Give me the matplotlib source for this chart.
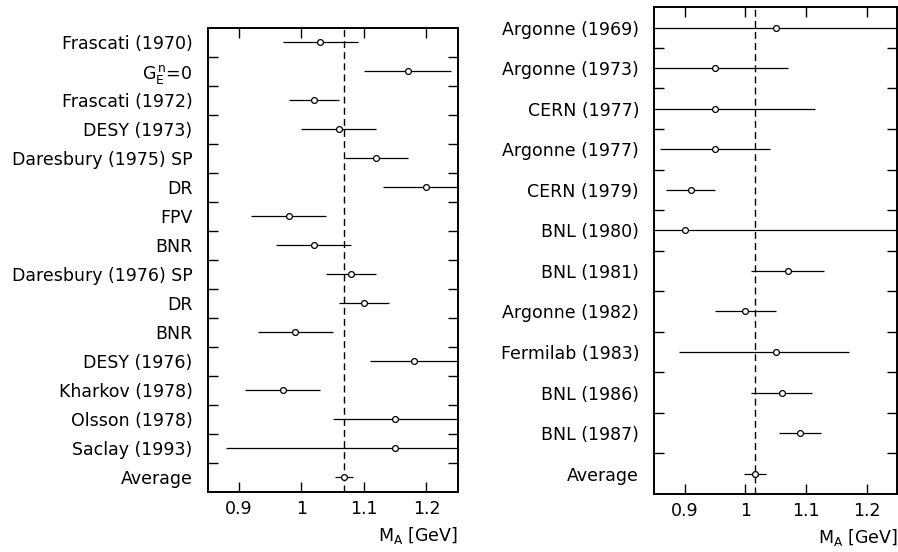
import matplotlib
matplotlib.use("Agg")
import matplotlib.pyplot as plt
from matplotlib.ticker import FixedLocator

# left panel: pion electroproduction
left_labels = ["Frascati (1970)", r"$\mathregular{G_E^{\,n}}$=0", "Frascati (1972)", "DESY (1973)",
               "Daresbury (1975) SP", "DR", "FPV", "BNR", "Daresbury (1976) SP", "DR", "BNR",
               "DESY (1976)", "Kharkov (1978)", "Olsson (1978)", "Saclay (1993)", "Average"]
left_val = [1.03, 1.17, 1.02, 1.06, 1.12, 1.20, 0.98, 1.02, 1.08, 1.10, 0.99, 1.18, 0.97, 1.15, 1.15, 1.068]
left_err = [0.06, 0.07, 0.04, 0.06, 0.05, 0.07, 0.06, 0.06, 0.04, 0.04, 0.06, 0.07, 0.06, 0.10, 0.27, 0.015]
left_avg = 1.068

# right panel: neutrino scattering
right_labels = ["Argonne (1969)", "Argonne (1973)", "CERN (1977)", "Argonne (1977)", "CERN (1979)",
                "BNL (1980)", "BNL (1981)", "Argonne (1982)", "Fermilab (1983)", "BNL (1986)",
                "BNL (1987)", "Average"]
right_val = [1.05, 0.95, 0.95, 0.95, 0.91, 0.90, 1.07, 1.00, 1.05, 1.06, 1.09, 1.016]
right_err_lo = [0.22, 0.12, 0.16, 0.09, 0.04, 0.35, 0.06, 0.05, 0.16, 0.05, 0.035, 0.018]
right_err_hi = [0.22, 0.12, 0.165, 0.09, 0.04, 0.35, 0.06, 0.05, 0.12, 0.05, 0.035, 0.018]
right_avg = 1.0165

xticks = [0.9, 1.0, 1.1, 1.2]
xtick_labels = ["0.9", "1", "1.1", "1.2"]

fig = plt.figure(figsize=(8.98, 5.52), dpi=100)
ax1 = fig.add_axes([0.2313, 0.1087, 0.2784, 0.8411])
ax2 = fig.add_axes([0.7286, 0.1051, 0.2706, 0.8817])


def draw_panel(ax, labels, vals, err, avg):
    n = len(labels)
    ys = list(range(1, n + 1))
    ax.axvline(avg, color="black", lw=1.0, dashes=(5, 3), zorder=1)
    ax.errorbar(vals, ys, xerr=err, fmt="o", color="black", ecolor="black",
                elinewidth=0.9, capsize=0, markersize=4.2, markerfacecolor="white",
                markeredgecolor="black", markeredgewidth=0.9, zorder=3)
    ax.set_xlim(0.85, 1.25)
    ax.set_ylim(n + 0.5, 0.5)
    ax.set_yticks(ys)
    ax.set_yticklabels(labels, fontsize=12.5)
    ax.yaxis.set_minor_locator(FixedLocator([i + 0.5 for i in range(1, n)]))
    ax.tick_params(axis="y", which="major", length=0, pad=11)
    ax.tick_params(axis="y", which="minor", length=7.2, width=1, direction="in", left=True, right=True)
    ax.set_xticks(xticks)
    ax.set_xticklabels(xtick_labels, fontsize=12.5)
    ax.tick_params(axis="x", which="major", length=7.2, width=1, direction="in", top=True, bottom=True, pad=6)
    ax.set_xlabel(r"$\mathregular{M_A}$ [GeV]", fontsize=12.5, loc="right", labelpad=5)
    for sp in ax.spines.values():
        sp.set_linewidth(1.4)


draw_panel(ax1, left_labels, left_val, left_err, left_avg)
draw_panel(ax2, right_labels, right_val, [right_err_lo, right_err_hi], right_avg)

plt.savefig("out.png", dpi=100)
